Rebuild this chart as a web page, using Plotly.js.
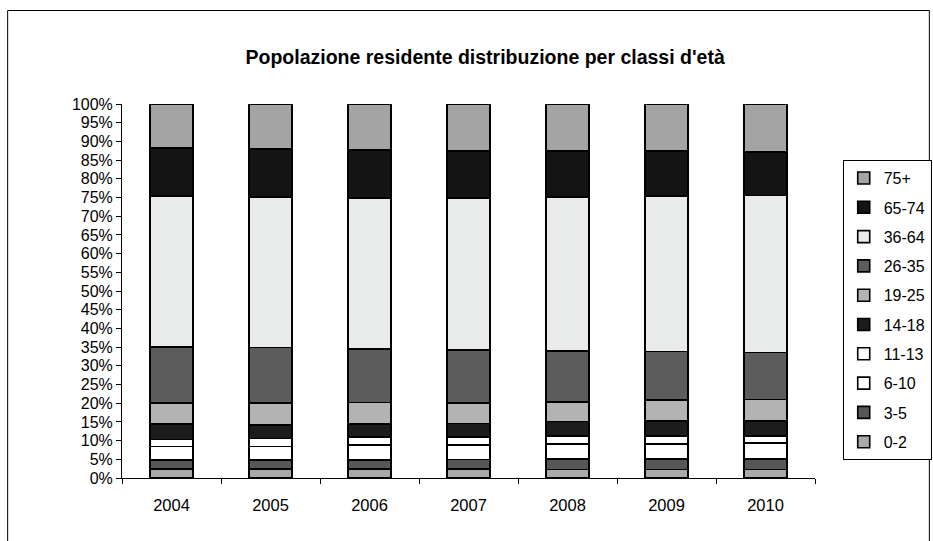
<!DOCTYPE html>
<html>
<head>
<meta charset="utf-8">
<script src="https://cdn.plot.ly/plotly-3.0.1.min.js"></script>
<style>html,body{margin:0;padding:0;background:#fff;}#chart{width:933px;height:541px;}</style>
</head>
<body>
<div id="chart"></div>
<script>
const years = ["2004", "2005", "2006", "2007", "2008", "2009", "2010"];
const classes = ["0-2", "3-5", "6-10", "11-13", "14-18", "19-25", "26-35", "36-64", "65-74", "75+"];
// percentage share per class, per year
const v0_2   = [2.4, 2.4, 2.4, 2.4, 2.3, 2.3, 2.3];
const v3_5   = [2.4, 2.4, 2.4, 2.6, 2.8, 2.8, 2.8];
const v6_10  = [3.6, 3.6, 4.0, 3.8, 4.0, 4.0, 4.2];
const v11_13 = [1.9, 2.2, 2.1, 2.2, 2.1, 2.1, 2.0];
const v14_18 = [4.1, 3.6, 3.5, 3.6, 3.9, 4.0, 4.0];
const v19_25 = [5.7, 5.8, 5.8, 5.5, 5.3, 5.7, 5.7];
const v26_35 = [15.0, 14.9, 14.3, 14.1, 13.6, 12.9, 12.6];
const v36_64 = [40.3, 40.2, 40.4, 40.7, 41.1, 41.6, 41.9];
const v65_74 = [12.8, 12.9, 12.8, 12.6, 12.3, 12.0, 11.6];
const v75p   = [11.8, 12.0, 12.3, 12.5, 12.6, 12.6, 12.9];
const yTicks = [0,5,10,15,20,25,30,35,40,45,50,55,60,65,70,75,80,85,90,95,100];
const yTickText = yTicks.map(t => t + "%");

const series = [v0_2, v3_5, v6_10, v11_13, v14_18, v19_25, v26_35, v36_64, v65_74, v75p];
const colors = ["#a9a9a9", "#575757", "#ffffff", "#ffffff", "#1c1c1c", "#b3b3b3", "#5c5c5c", "#e9ebeb", "#141414", "#a4a4a4"];

const traces = series.map((vals, i) => ({
  type: "bar",
  name: classes[i],
  x: years,
  y: vals,
  legendgroup: "g" + i,
  legendrank: 1000 - i,
  marker: { color: colors[i], line: { color: "#000", width: 1.6 } },
  hoverinfo: "x+y+name"
}));

const layout = {
  width: 933, height: 541,
  paper_bgcolor: "#fff", plot_bgcolor: "#fff",
  barmode: "stack",
  bargap: 0.56,
  margin: { l: 122, r: 118, t: 104, b: 63, autoexpand: false },
  font: { family: "Liberation Sans, Arial, sans-serif", color: "#000", size: 16 },
  title: {
    text: "<b>Popolazione residente distribuzione per classi d'età</b>",
    font: { size: 19.5, family: "Liberation Sans, Arial, sans-serif", color: "#000" },
    x: 0.52, xanchor: "center", y: 0.895, yanchor: "middle"
  },
  xaxis: {
    type: "category",
    showline: true, linecolor: "#000", linewidth: 1,
    ticks: "outside", tickson: "boundaries", ticklen: 5, tickcolor: "#000",
    tickfont: { size: 16.5 },
    ticklabelstandoff: 12,
    showgrid: false, zeroline: false
  },
  yaxis: {
    range: [0, 100],
    tickvals: yTicks, ticktext: yTickText,
    showline: true, linecolor: "#000", linewidth: 1,
    ticks: "outside", ticklen: 5, tickcolor: "#000",
    tickfont: { size: 16 },
    showgrid: false, zeroline: false
  },
  legend: {
    x: 1.04, xanchor: "left", y: 0.85, yanchor: "top",
    traceorder: "grouped",
    tracegroupgap: 5.5,
    bordercolor: "#000", borderwidth: 1,
    font: { size: 16 },
    itemwidth: 30
  },
  shapes: [
    { type: "rect", xref: "paper", yref: "paper", x0: -0.165, x1: 1.165, y0: -0.17, y1: 1.25,
      line: { color: "#000", width: 1 }, fillcolor: "rgba(0,0,0,0)" }
  ]
};

Plotly.newPlot("chart", traces, layout, { displayModeBar: false, staticPlot: true });
</script>
</body>
</html>
